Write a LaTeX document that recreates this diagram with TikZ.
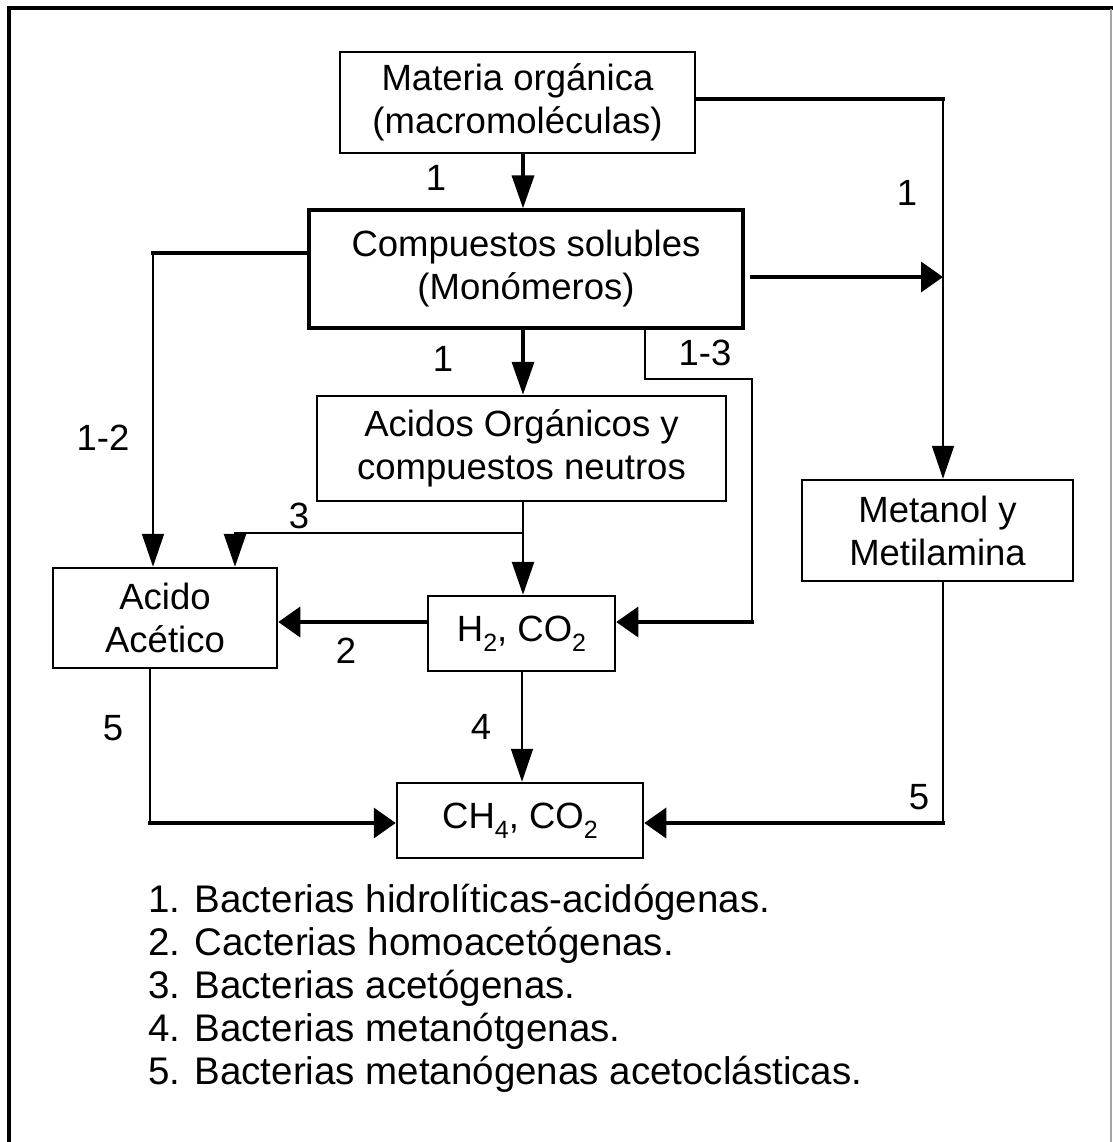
\documentclass[tikz,border=0pt]{standalone}
\usepackage{fontspec}
\setmainfont{Liberation Sans}
\usetikzlibrary{arrows.meta}
\newcommand\subd[1]{\raisebox{-0.28em}{\fontsize{25pt}{25pt}\selectfont #1}}
\begin{document}
\begin{tikzpicture}[x=1pt,y=-1pt,
  every node/.style={font=\fontsize{36.5pt}{43pt}\selectfont},
  box/.style={draw,line width=2.5pt,align=center,inner sep=0pt},
  thk/.style={line width=3.5pt},
  thn/.style={line width=1.8pt},
  mid/.style={line width=2.6pt},
  vtip/.style={-{Triangle[length=33pt,width=22pt]}},
  htip/.style={-{Triangle[length=22pt,width=30pt]}},
  lbl/.style={inner sep=0pt},
  legend/.style={inner sep=0pt,anchor=base west,font=\fontsize{38.5pt}{43pt}\selectfont},
  line cap=rect]
\useasboundingbox (0,0) rectangle (1112,1142);
% frame
\draw[line width=4pt] (9,1160) -- (9,8) -- (1130,8);
\draw[black!35,line width=1.5pt] (1111,10) -- (1111,1160);

% boxes
\node[box,minimum width=355pt,minimum height=101pt] (mat) at (517.5,102.5) {Materia orgánica\\(macromoléculas)};
\node[box,line width=3.2pt,minimum width=434pt,minimum height=118pt] (comp) at (526,269) {Compuestos solubles\\(Monómeros)};
\node[box,minimum width=409pt,minimum height=105pt] (acid) at (521.5,448.5) {Acidos Orgánicos y\\compuestos neutros};
\node[box,minimum width=224pt,minimum height=100pt] (acet) at (165,618) {Acido\\Acético};
\node[box,minimum width=187pt,minimum height=75pt] (h2) at (521.5,633.5) {H\subd{2}, CO\subd{2}};
\node[box,minimum width=271pt,minimum height=101pt] (met) at (937.5,530.5) {Metanol y\\Metilamina};
\node[box,minimum width=246pt,minimum height=75pt] (ch4) at (520,820.5) {CH\subd{4}, CO\subd{2}};

% coordinates
\coordinate (xA) at (523,0);
\coordinate (xB) at (522,0);
\coordinate (c1) at (943,99);
\coordinate (c2) at (752,277);
\coordinate (c2e) at (943,277);
\coordinate (c3) at (153,253);
\coordinate (c5) at (645,379);
\coordinate (c6) at (752,379);
\coordinate (c7) at (752,622);
\coordinate (c8) at (523,533);
\coordinate (c9) at (235,533);
\coordinate (c10) at (150,823);
\coordinate (c11) at (943,823);

% connectors
\draw[thk,vtip] (mat.south -| xA) -- (comp.north -| xA);
\draw[thk] (mat.east |- c1) -- (c1);
\draw[thn,vtip] (c1) -- (met.north -| c1);
\draw[thk,htip] (c2) -- (c2e);
\draw[thk] (comp.west |- c3) -- (c3);
\draw[thn,vtip] (c3) -- (acet.north -| c3);
\draw[thk,vtip] (comp.south -| xA) -- (acid.north -| xA);
\draw[thn] (comp.south -| c5) -- (c5) -- (c6);
\draw[mid] (c6) -- (c7);
\draw[thk,htip] (c7) -- (h2.east |- c7);
\draw[mid,vtip] (acid.south -| xA) -- (h2.north -| xA);
\draw[thn] (c8) -- (c9);
\draw[mid,vtip] (c9) -- (acet.north -| c9);
\draw[thk,htip] (h2.west |- c7) -- (acet.east |- c7);
\draw[mid] (acet.south -| c10) -- (c10);
\draw[thk,htip] (c10) -- (ch4.west |- c10);
\draw[thn,vtip] (h2.south -| xB) -- (ch4.north -| xB);
\draw[thn] (met.south -| c1) -- (c11);
\draw[thk,htip] (c11) -- (ch4.east |- c11);

% labels
\node[lbl] (n1) at (436,178) {1};
\node[lbl] (n2) at (907,193) {1};
\node[lbl] (n3) at (103,438) {1-2};
\node[lbl] (n4) at (443,359) {1};
\node[lbl] (n5) at (705,353) {1-3};
\node[lbl] (n6) at (299,516) {3};
\node[lbl] (n7) at (346,651) {2};
\node[lbl] (n8) at (113,728) {5};
\node[lbl] (n9) at (481,727) {4};
\node[lbl] (n10) at (919,797) {5};

% legend
\node[legend] (l1) at (148,912) {1. Bacterias hidrolíticas-acidógenas.};
\node[legend] (l2) at (148,955) {2. Cacterias homoacetógenas.};
\node[legend] (l3) at (148,998) {3. Bacterias acetógenas.};
\node[legend] (l4) at (148,1041) {4. Bacterias metanótgenas.};
\node[legend] (l5) at (148,1084) {5. Bacterias metanógenas acetoclásticas.};
\end{tikzpicture}
\end{document}
